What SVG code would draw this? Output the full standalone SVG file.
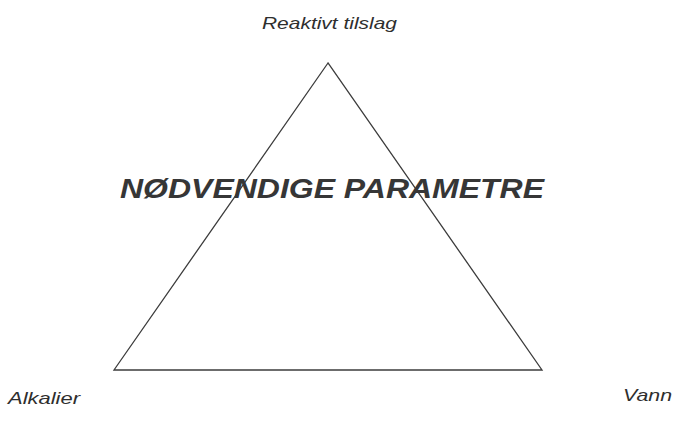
<svg xmlns="http://www.w3.org/2000/svg" width="674" height="428" viewBox="0 0 674 428">
<style>
.lbl{font-family:"Liberation Sans",Arial,sans-serif;font-style:italic;font-size:17px;fill:#2e2e2e}
.title{font-family:"Liberation Sans",Arial,sans-serif;font-style:italic;font-weight:bold;font-size:28px;fill:#363636}
.edge{fill:none;stroke:#3c3c3c;stroke-width:1.3;stroke-linejoin:miter}
</style>
<rect width="674" height="428" fill="#fff"/>
<g id="connectors">
<polygon class="edge" points="328,63 114,370 542,370"/>
</g>
<g id="node-top"><text class="lbl" x="262" y="29" textLength="135" lengthAdjust="spacingAndGlyphs">Reaktivt tilslag</text></g>
<g id="node-left"><text class="lbl" x="8" y="404" textLength="72" lengthAdjust="spacingAndGlyphs">Alkalier</text></g>
<g id="node-right"><text class="lbl" x="623" y="401" textLength="49" lengthAdjust="spacingAndGlyphs">Vann</text></g>
<g id="title"><text class="title" x="120" y="198" textLength="424" lengthAdjust="spacingAndGlyphs">NØDVENDIGE PARAMETRE</text></g>
</svg>
